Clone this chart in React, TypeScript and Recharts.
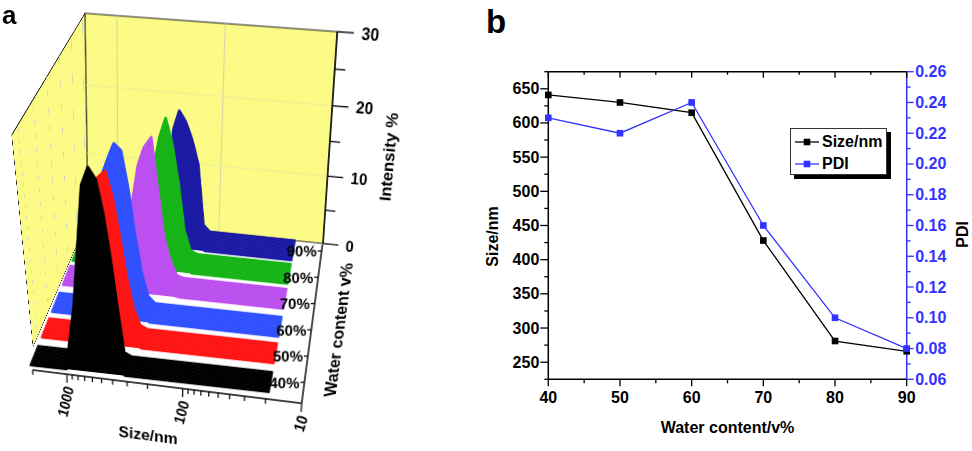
import React from 'react';
import { AreaChart, Area, LineChart, Line, XAxis, YAxis, ReferenceArea, ReferenceLine, Legend } from 'recharts';

const FONT = '"Liberation Sans", Arial, sans-serif';

// ---------- panel a : DLS intensity distributions ----------
const sizeBins = [18.17, 21.04, 24.36, 28.21, 32.67, 37.84, 43.82, 50.75, 58.77, 68.06, 78.82, 91.28, 105.7, 122.4, 141.8, 164.2, 190.1, 220.2, 255.0, 295.3, 342.0, 396.1, 458.7, 531.2, 615.1, 712.4, 825.0, 955.4, 1106, 1281, 1484, 1718, 1990];
const waterLevels = [40, 50, 60, 70, 80, 90];
const intensity40 = [0, 0, 0, 0, 0, 0, 0, 0, 0, 0, 0, 0, 0, 0, 0, 0, 0, 0, 0, 0, 0.5, 7, 14, 20, 24.5, 26, 9, 0, 0, 0, 0, 0, 0];
const intensity50 = [0, 0, 0, 0, 0, 0, 0, 0, 0, 0, 0, 0, 0, 0, 0, 0, 0, 0, 0, 0.5, 3, 7.5, 13.4, 18.5, 22, 21, 8, 0, 0, 0, 0, 0, 0];
const intensity60 = [0, 0, 0, 0, 0, 0, 0, 0, 0, 0, 0, 0, 0, 0, 0, 0, 0, 0, 0, 1, 4.5, 10, 16.5, 21.5, 22.4, 19.5, 6, 0, 0, 0, 0, 0, 0];
const intensity70 = [0, 0, 0, 0, 0, 0, 0, 0, 0, 0, 0, 0, 0, 0, 0, 0, 0.3, 2.5, 6, 13, 20, 18.5, 11.5, 5, 1, 0, 0, 0, 0, 0, 0, 0, 0];
const intensity80 = [0, 0, 0, 0, 0, 0, 0, 0, 0, 0, 0, 0, 0, 0, 0, 0.5, 3.5, 10.5, 16, 19.5, 14, 4, 0, 0, 0, 0, 0, 0, 0, 0, 0, 0, 0];
const intensity90 = [0, 0, 0, 0, 0, 0, 0, 0, 0, 0, 0, 0, 0, 0, 1, 10, 13.5, 16, 17.5, 6, 0.5, 0, 0, 0, 0, 0, 0, 0, 0, 0, 0, 0, 0];
const seriesValues = [intensity40, intensity50, intensity60, intensity70, intensity80, intensity90];
const seriesColors = ['#000000', '#ff1414', '#3050ff', '#bb4ff0', '#16b416', '#1a1aa5'];
const sizeTicks = [10, 20, 30, 40, 50, 60, 70, 80, 90, 100, 200, 300, 400, 500, 600, 700, 800, 900, 1000, 2000];
const intensityTicks = [0, 5, 10, 15, 20, 25, 30];

// ---------- panel b : size and PDI vs water content ----------
const waterContent = [40, 50, 60, 70, 80, 90];
const sizeNm = [641, 630, 615, 428, 281, 266];
const pdiValues = [0.23, 0.22, 0.24, 0.16, 0.1, 0.08];
const waterTicks = [40, 45, 50, 55, 60, 65, 70, 75, 80, 85, 90];
const sizeNmTicks = [225, 250, 275, 300, 325, 350, 375, 400, 425, 450, 475, 500, 525, 550, 575, 600, 625, 650, 675];
const pdiTicks = [0.06, 0.07, 0.08, 0.09, 0.1, 0.11, 0.12, 0.13, 0.14, 0.15, 0.16, 0.17, 0.18, 0.19, 0.2, 0.21, 0.22, 0.23, 0.24, 0.25, 0.26];

// ---------- 3d box geometry (screen px) ----------
type Pt = [number, number];
const FRONT: Pt[] = [[26.5, 150], [315, 175.5], [301, 395.5], [29.5, 365]]; // TL TR BR BL
const BACK: Pt[] = [[85, 13.3], [337.3, 31.7], [323, 243.5], [88, 219]];
const LEFT_WALL: Pt[] = [[11.7, 135], [85, 13.3], [88, 219], [33, 347]];
const layerDepth = [0, 0.19, 0.365, 0.55, 0.715, 0.87];
const RIBBON = 0.13;
const COPIES = 14;
const PW = 270;
const PH = 215;
const PAD = 10;

const lerpPt = (a: Pt, b: Pt, t: number): Pt => [a[0] + (b[0] - a[0]) * t, a[1] + (b[1] - a[1]) * t];
const planeAt = (t: number): Pt[] => FRONT.map((p, i) => lerpPt(p, BACK[i], t));

// homography of the rect (ox,oy,W,H) onto quad, as css matrix3d
function matrixFor(q: Pt[], ox: number, oy: number, W: number, H: number) {
  const [[x0, y0], [x1, y1], [x2, y2], [x3, y3]] = q;
  const sx = x0 - x1 + x2 - x3;
  const sy = y0 - y1 + y2 - y3;
  const dx1 = x1 - x2, dx2 = x3 - x2, dy1 = y1 - y2, dy2 = y3 - y2;
  const den = dx1 * dy2 - dx2 * dy1;
  const g = (sx * dy2 - dx2 * sy) / den;
  const h = (dx1 * sy - sx * dy1) / den;
  const a = x1 - x0 + g * x1, b = x3 - x0 + h * x3;
  const d = y1 - y0 + g * y1, e = y3 - y0 + h * y3;
  const m = [
    a / W, d / W, 0, g / W,
    b / H, e / H, 0, h / H,
    0, 0, 1, 0,
    x0 - (a * ox) / W - (b * oy) / H, y0 - (d * ox) / W - (e * oy) / H, 0, 1 - (g * ox) / W - (h * oy) / H,
  ];
  return `matrix3d(${m.join(',')})`;
}

const Projected = ({ quad, width, height, W = PW, H = PH, children }: any) => (
  <div style={{ position: 'absolute', left: 0, top: 0, width, height, transformOrigin: '0 0', transform: matrixFor(quad, PAD, PAD, W, H) }}>
    {children}
  </div>
);

const txt = { fontFamily: FONT, fontWeight: 'bold' as const, fill: '#000' };

const Ribbon = ({ values, color, t }: { values: number[]; color: string; t: number }) => {
  const data = sizeBins.map((s, i) => ({ size: s, v: values[i] }));
  const copies = [];
  for (let k = COPIES; k >= 0; k--) {
    const tk = t + (RIBBON * k) / COPIES;
    copies.push(
      <Projected key={k} quad={planeAt(tk)} width={PW + 2 * PAD} height={PH + 2 * PAD}>
        <AreaChart width={PW + 2 * PAD} height={PH + 2 * PAD} data={data} margin={{ top: PAD, right: PAD, bottom: PAD, left: PAD }}>
          <XAxis hide type="number" dataKey="size" scale="log" domain={[10, 2000]} reversed />
          <YAxis hide type="number" domain={[0, 30]} />
          <Area type="linear" dataKey="v" stroke={color} strokeWidth={2.6} strokeLinejoin="round" fill={color} fillOpacity={1} dot={false} activeDot={false} isAnimationActive={false} />
        </AreaChart>
      </Projected>
    );
  }
  return <>{copies}</>;
};

const IntensityTick = (p: any) => {
  const v = p.payload.value;
  const major = v % 10 === 0;
  return (
    <g>
      <line x1={p.x} y1={p.y} x2={p.x + (major ? 17 : 11)} y2={p.y} stroke="#000" strokeWidth={1.3} />
      {major && <text x={p.x + 25} y={p.y} dominantBaseline="central" fontSize={16} {...txt}>{v}</text>}
    </g>
  );
};

const IntensityTitle = ({ viewBox }: any) => {
  const cx = viewBox.x + 63;
  const cy = viewBox.y + viewBox.height * 0.551;
  return <text x={cx} y={cy} transform={`rotate(-90 ${cx} ${cy})`} textAnchor="middle" dominantBaseline="central" fontSize={17} {...txt}>Intensity %</text>;
};

const SizeTick = (p: any) => {
  const v = p.payload.value;
  const major = v === 10 || v === 100 || v === 1000;
  return (
    <g>
      <line x1={p.x} y1={p.y} x2={p.x} y2={p.y + (major ? 9 : 5)} stroke="#000" strokeWidth={1.2} />
      {major && (
        <text transform={`translate(${p.x + 2},${p.y + 13}) rotate(-78)`} textAnchor="end" dominantBaseline="central" fontSize={15} {...txt}>{v}</text>
      )}
    </g>
  );
};

const SizeTitle = ({ viewBox }: any) => (
  <text x={viewBox.x + viewBox.width * 0.44} y={viewBox.y + 55} textAnchor="middle" dominantBaseline="central" fontSize={16} {...txt}>Size/nm</text>
);

const WATER_SKEW = 7.46;
const WaterTick = (p: any) => (
  <g transform={`translate(${p.x},${p.y}) skewX(${WATER_SKEW})`}>
    <line x1={0} y1={0} x2={-4} y2={0} stroke="#000" strokeWidth={1.2} />
    <text x={-5} y={0} textAnchor="end" dominantBaseline="central" fontSize={15} {...txt}>{p.payload.value}%</text>
  </g>
);

const WaterTitle = ({ viewBox }: any) => {
  const cx = viewBox.x + viewBox.width + 26.7;
  const cy = viewBox.y + viewBox.height * 0.538;
  return <text x={cx} y={cy} transform={`rotate(-90 ${cx} ${cy})`} textAnchor="middle" dominantBaseline="central" fontSize={16} {...txt}>Water content v%</text>;
};

const WALL = '#fbfb86';

const PanelA = () => {
  const blackData = sizeBins.map((s, i) => ({ size: s, v: intensity40[i] }));
  const waterData = waterLevels.map((w) => ({ w }));
  const axisShift: Pt[] = [[3.2, 5], [0.7, 7.8], [0.7, 7.8], [3.2, 5]];
  const sizeAxisQuad = planeAt(0).map((p, i) => [p[0] + axisShift[i][0], p[1] + axisShift[i][1]] as Pt);
  const order = [5, 4, 3, 2, 1, 0];
  return (
    <div style={{ position: 'absolute', left: 0, top: 0, width: 420, height: 451 }}>
      {/* left wall */}
      <Projected quad={LEFT_WALL} width={PW + 2 * PAD} height={PH + 2 * PAD}>
        <AreaChart width={PW + 2 * PAD} height={PH + 2 * PAD} data={waterData} margin={{ top: PAD, right: PAD, bottom: PAD, left: PAD }}>
          <XAxis hide type="number" dataKey="w" domain={[36, 92.5]} allowDataOverflow />
          <YAxis hide type="number" domain={[0, 30]} allowDataOverflow />
          <ReferenceArea x1={36} x2={92.5} y1={0} y2={30} fill={WALL} fillOpacity={1} stroke="#222" strokeWidth={1.2} />
          {waterLevels.map((w) => (
            <ReferenceLine key={w} x={w} stroke="#d6d6b8" strokeWidth={1} />
          ))}
        </AreaChart>
      </Projected>

      {/* back wall with intensity axis */}
      <Projected quad={planeAt(1)} width={PW + PAD + 100} height={PH + 2 * PAD}>
        <AreaChart width={PW + PAD + 100} height={PH + 2 * PAD} data={blackData} margin={{ top: PAD, right: 5, bottom: PAD, left: PAD }}>
          <XAxis hide type="number" dataKey="size" scale="log" domain={[10, 2000]} reversed allowDataOverflow />
          <YAxis orientation="right" width={95} type="number" domain={[0, 30]} allowDataOverflow ticks={intensityTicks} interval={0} tickSize={0} tickMargin={0} tick={IntensityTick} axisLine={{ stroke: '#000', strokeWidth: 1.4 }} label={{ content: IntensityTitle }} />
          <ReferenceArea x1={10} x2={2000} y1={0} y2={30} fill={WALL} fillOpacity={1} stroke="#222" strokeWidth={1.2} />
          <ReferenceLine x={1000} stroke="#cfcfb2" strokeWidth={1} />
          <ReferenceLine x={100} stroke="#cfcfb2" strokeWidth={1} />
          <ReferenceLine y={10} stroke="#ecec9e" strokeWidth={1} />
          <ReferenceLine y={20} stroke="#ecec9e" strokeWidth={1} />
        </AreaChart>
      </Projected>

      {order.map((i) => (
        <Ribbon key={i} values={seriesValues[i]} color={seriesColors[i]} t={layerDepth[i]} />
      ))}

      {/* size axis at the front */}
      <Projected quad={sizeAxisQuad} width={PW + 2 * PAD} height={PH + PAD + 85}>
        <AreaChart width={PW + 2 * PAD} height={PH + PAD + 85} data={blackData} margin={{ top: PAD, right: PAD, bottom: 5, left: PAD }}>
          <XAxis type="number" dataKey="size" scale="log" domain={[10, 2000]} reversed allowDataOverflow ticks={sizeTicks} interval={0} tickSize={0} tickMargin={0} tick={SizeTick} axisLine={{ stroke: '#000', strokeWidth: 1.4 }} height={80} label={{ content: SizeTitle }} />
          <YAxis hide type="number" domain={[0, 30]} allowDataOverflow />
        </AreaChart>
      </Projected>

      {/* water content axis along the depth */}
      <div style={{ position: 'absolute', left: 0, top: 0, transformOrigin: '0 0', transform: 'matrix(1,0,-0.131,1,253.8,234.5)' }}>
        <LineChart width={120} height={178.8} data={waterData} margin={{ top: 10, right: 40, bottom: 10, left: 0 }}>
          <XAxis hide dataKey="w" />
          <YAxis type="number" width={70} domain={[32, 92.5]} allowDataOverflow ticks={waterLevels} interval={0} tickSize={0} tickMargin={0} tick={WaterTick} axisLine={{ stroke: '#000', strokeWidth: 1.4 }} label={{ content: WaterTitle }} />
        </LineChart>
      </div>
    </div>
  );
};

// ---------- panel b ----------
const BottomTick = (p: any) => {
  const v = p.payload.value;
  const major = v % 10 === 0;
  return (
    <g>
      <line x1={p.x} y1={p.y} x2={p.x} y2={p.y + (major ? 7 : 4)} stroke="#000" strokeWidth={1.3} />
      {major && <text x={p.x} y={p.y + 18} textAnchor="middle" dominantBaseline="central" fontSize={16} {...txt}>{v}</text>}
    </g>
  );
};

const TopTick = (p: any) => {
  const major = p.payload.value % 10 === 0;
  return <line x1={p.x} y1={p.y} x2={p.x} y2={p.y + (major ? 6 : 3)} stroke="#000" strokeWidth={1.3} />;
};

const LeftTick = (p: any) => {
  const v = p.payload.value;
  const major = v % 50 === 0;
  return (
    <g>
      <line x1={p.x} y1={p.y} x2={p.x - (major ? 8 : 4)} y2={p.y} stroke="#000" strokeWidth={1.3} />
      {major && <text x={p.x - 9} y={p.y} textAnchor="end" dominantBaseline="central" fontSize={16} {...txt}>{v}</text>}
    </g>
  );
};

const PDI_BLUE = '#3333ff';
const RightTick = (p: any) => {
  const v = p.payload.value;
  const major = Math.round(v * 100) % 2 === 0;
  return (
    <g>
      <line x1={p.x} y1={p.y} x2={p.x + (major ? 7 : 4)} y2={p.y} stroke={PDI_BLUE} strokeWidth={1.3} />
      {major && <text x={p.x + 8.5} y={p.y} dominantBaseline="central" fontSize={16} {...txt} fill={PDI_BLUE}>{v.toFixed(2)}</text>}
    </g>
  );
};

const XTitleB = ({ viewBox }: any) => (
  <text x={viewBox.x + viewBox.width / 2} y={viewBox.y + 48.4} textAnchor="middle" dominantBaseline="central" fontSize={16} {...txt}>Water content/v%</text>
);
const LeftTitleB = ({ viewBox }: any) => {
  const cx = viewBox.x + viewBox.width - 55.8;
  const cy = viewBox.y + viewBox.height / 2 + 11;
  return <text x={cx} y={cy} transform={`rotate(-90 ${cx} ${cy})`} textAnchor="middle" dominantBaseline="central" fontSize={16} {...txt}>Size/nm</text>;
};
const RightTitleB = ({ viewBox }: any) => {
  const cx = viewBox.x + 56;
  const cy = viewBox.y + viewBox.height / 2 + 8.8;
  return <text x={cx} y={cy} transform={`rotate(-90 ${cx} ${cy})`} textAnchor="middle" dominantBaseline="central" fontSize={16} {...txt}>PDI</text>;
};

const squareDot = (color: string) => (p: any) => (
  <rect key={`${color}-${p.index}`} x={p.cx - 3.3} y={p.cy - 3.3} width={6.6} height={6.6} fill={color} />
);

const LegendRow = ({ color, label }: { color: string; label: string }) => (
  <div style={{ display: 'flex', alignItems: 'center', height: 22 }}>
    <svg width={24} height={10} style={{ marginLeft: 4 }}>
      <line x1={0} y1={5} x2={24} y2={5} stroke={color} strokeWidth={1.3} />
      <rect x={8.7} y={1.7} width={6.6} height={6.6} fill={color} />
    </svg>
    <span style={{ marginLeft: 3, fontFamily: FONT, fontWeight: 'bold', fontSize: 16, color: '#000' }}>{label}</span>
  </div>
);

const LegendBox = () => (
  <div style={{ width: 97, height: 47, border: '1px solid #333', background: '#fff', boxShadow: '4px 4px 0 #000', paddingTop: 2, boxSizing: 'border-box' }}>
    <LegendRow color="#000" label="Size/nm" />
    <LegendRow color={PDI_BLUE} label="PDI" />
  </div>
);

const PanelB = () => {
  const data = waterContent.map((w, i) => ({ w, size: sizeNm[i], pdi: pdiValues[i] }));
  return (
    <div style={{ position: 'absolute', left: 480, top: 40 }}>
      <LineChart width={492} height={411} data={data} margin={{ top: 30.7, right: 5.3, bottom: 31.7, left: 8.3 }}>
        <XAxis dataKey="w" type="number" domain={[40, 90]} ticks={waterTicks} interval={0} tickSize={0} tickMargin={0} tick={BottomTick} axisLine={{ stroke: '#000', strokeWidth: 1.5 }} height={40} label={{ content: XTitleB }} />
        <XAxis xAxisId="top" orientation="top" dataKey="w" type="number" domain={[40, 90]} ticks={waterTicks} interval={0} tickSize={0} tickMargin={0} tick={TopTick} axisLine={{ stroke: '#000', strokeWidth: 1.5 }} height={1} />
        <YAxis yAxisId="left" type="number" domain={[225, 675]} ticks={sizeNmTicks} interval={0} tickSize={0} tickMargin={0} tick={LeftTick} axisLine={{ stroke: '#000', strokeWidth: 1.5 }} width={60} label={{ content: LeftTitleB }} />
        <YAxis yAxisId="right" orientation="right" type="number" domain={[0.06, 0.26]} ticks={pdiTicks} interval={0} tickSize={0} tickMargin={0} tick={RightTick} axisLine={{ stroke: PDI_BLUE, strokeWidth: 1.5 }} width={60} label={{ content: RightTitleB }} />
        <Line yAxisId="left" type="linear" dataKey="size" stroke="#000" strokeWidth={1.3} dot={squareDot('#000')} activeDot={false} isAnimationActive={false} />
        <Line yAxisId="right" type="linear" dataKey="pdi" stroke={PDI_BLUE} strokeWidth={1.3} dot={squareDot(PDI_BLUE)} activeDot={false} isAnimationActive={false} />
        <Legend layout="horizontal" verticalAlign="middle" align="center" content={() => <LegendBox />} wrapperStyle={{ left: 310, top: 88.3, width: 'auto', height: 'auto' }} />
      </LineChart>
    </div>
  );
}

export default function App() {
  return (
    <div style={{ position: 'absolute', left: 0, top: 0, width: 972, height: 451, background: '#fff', overflow: 'hidden' }}>
      <PanelA />
      <PanelB />
      <div style={{ position: 'absolute', left: 2, top: 0, fontFamily: FONT, fontWeight: 'bold', fontSize: 26, lineHeight: 'normal' }}>a</div>
      <div style={{ position: 'absolute', left: 486, top: 4.7, fontFamily: FONT, fontWeight: 'bold', fontSize: 33, lineHeight: 1 }}>b</div>
    </div>
  );
}
